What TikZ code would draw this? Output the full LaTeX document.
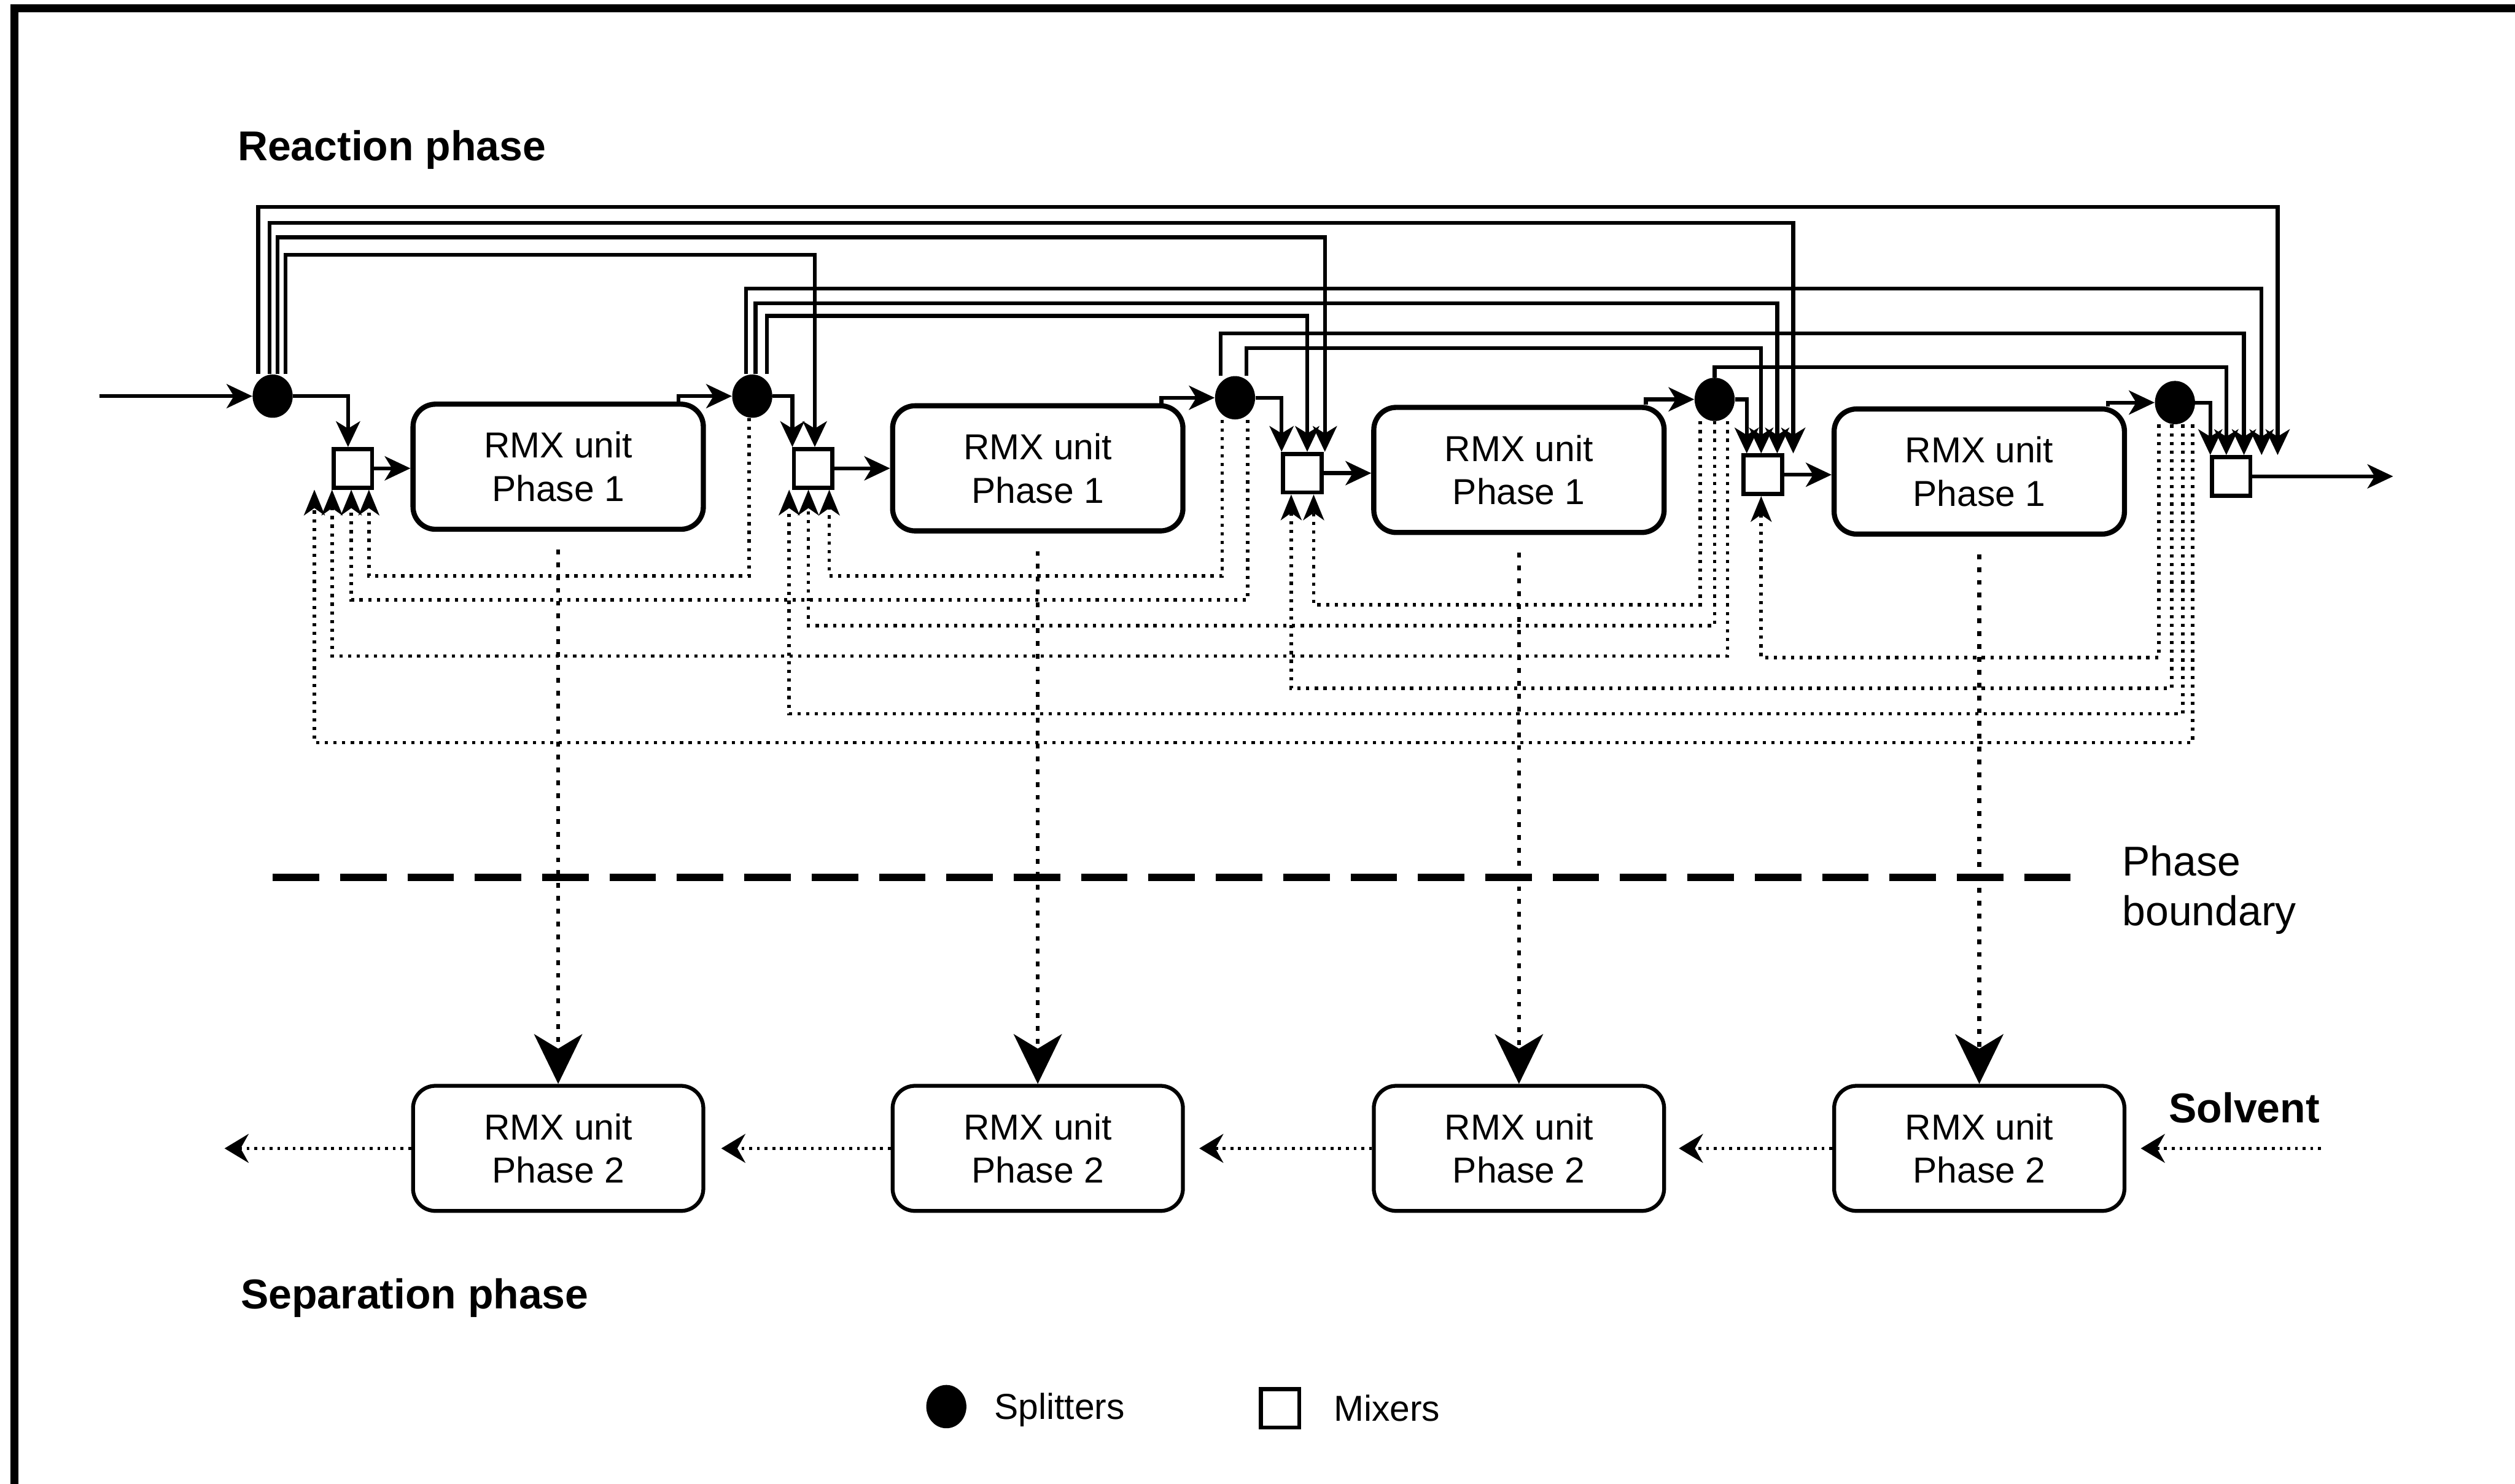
\documentclass[tikz,border=0pt]{standalone}
\usepackage{fontspec}
\setmainfont{Liberation Sans}
\usetikzlibrary{arrows.meta, positioning, shapes.geometric}

\begin{document}
\begin{tikzpicture}[
  x=1pt, y=-1pt,
  >=Stealth,
  rmx/.style={
    rectangle, draw, line width=3.2pt,
    rounded corners=14pt,
    minimum width=181pt, minimum height=78pt,
    align=center, font=\fontsize{22.5}{27}\selectfont
  },
  rmxtwo/.style={rmx, line width=2.4pt},
  splitter/.style={ellipse, fill=black, minimum width=25pt, minimum height=27pt, inner sep=0pt},
  mixer/.style={rectangle, draw, fill=white, line width=2.6pt, minimum width=24pt, minimum height=24pt, inner sep=0pt},
  flow/.style={line width=2.4pt, -{Stealth[length=16pt, width=15pt, inset=4.5pt]}},
  recycle/.style={line width=2.2pt, dash pattern=on 2pt off 3.4pt, -{Stealth[length=16pt, width=13pt, inset=4.5pt]}},
  transfer/.style={line width=2.4pt, dash pattern=on 3pt off 5pt, shorten <=11pt, -{Stealth[length=31pt, width=30pt, inset=9pt]}},
  backflow/.style={line width=2pt, dash pattern=on 1.8pt off 3pt, -{Stealth[length=15pt, width=18pt, inset=5pt]}},
  boundary/.style={line width=4.5pt, dash pattern=on 29pt off 13pt},
  heading/.style={font=\fontsize{26}{31}\selectfont\bfseries, anchor=base west, inner sep=0pt},
  lbl/.style={font=\fontsize{26}{31}\selectfont, align=left, anchor=north west, inner sep=0pt},
  keytext/.style={font=\fontsize{22.5}{27}\selectfont, inner sep=0pt}
]
  \useasboundingbox (0,0) rectangle (1568,925);
  \draw[line width=5pt] (9,930) -- (9,5) -- (1575,5);

  \node[heading] (reaction) at (148,100) {Reaction phase};
  \node[heading] (separation) at (150,816) {Separation phase};

  \node[splitter] (S1) at (170,247) {};
  \node[mixer]    (M1) at (220,292) {};
  \node[rmx]      (U1) at (348,291) {RMX unit\\Phase 1};
  \node[splitter] (S2) at (469,247) {};
  \node[mixer]    (M2) at (507,292) {};
  \node[rmx]      (U2) at (647,292) {RMX unit\\Phase 1};
  \node[splitter] (S3) at (770,248) {};
  \node[mixer]    (M3) at (812,295) {};
  \node[rmx]      (U3) at (947,293) {RMX unit\\Phase 1};
  \node[splitter] (S4) at (1069,249) {};
  \node[mixer]    (M4) at (1099,296) {};
  \node[rmx]      (U4) at (1234,294) {RMX unit\\Phase 1};
  \node[splitter] (S5) at (1356,251) {};
  \node[mixer]    (M5) at (1391,297) {};

  \coordinate (feed) at (62,247);
  \coordinate (product) at (1492,297);

  \draw[flow] (feed) -- (S1);
  \draw[flow] (M1.east) -- (M1.east -| U1.west);
  \draw[flow] (M2.east) -- (M2.east -| U2.west);
  \draw[flow] (M3.east) -- (M3.east -| U3.west);
  \draw[flow] (M4.east) -- (M4.east -| U4.west);
  \draw[flow] (M5.east) -- (product);
  \draw[flow] ([xshift=-17]U1.north east) |- (S2.west);
  \draw[flow] ([xshift=-15]U2.north east) |- (S3.west);
  \draw[flow] ([xshift=-13]U3.north east) |- (S4.west);
  \draw[flow] ([xshift=-12]U4.north east) |- (S5.west);

  \draw[flow] (S1.east) -| ([xshift=-3]M1.north);
  \draw[flow] (S2.east) -| ([xshift=-13]M2.north);
  \draw[flow] (S3.east) -| ([xshift=-13]M3.north);
  \draw[flow] (S4.east) -| ([xshift=-10]M4.north);
  \draw[flow] (S5.east) -| ([xshift=-13]M5.north);

  \draw[flow] ([xshift=8]S1.north) -- ([xshift=8]S1.north |- 0,159) -| ([xshift=1]M2.north);
  \draw[flow] ([xshift=3]S1.north) -- ([xshift=3]S1.north |- 0,148) -| ([xshift=14]M3.north);
  \draw[flow] ([xshift=-2]S1.north) -- ([xshift=-2]S1.north |- 0,139) -| ([xshift=19]M4.north);
  \draw[flow] ([xshift=-9]S1.north) -- ([xshift=-9]S1.north |- 0,129) -| ([xshift=29]M5.north);
  \draw[flow] ([xshift=9]S2.north) -- ([xshift=9]S2.north |- 0,197) -| ([xshift=3]M3.north);
  \draw[flow] ([xshift=2]S2.north) -- ([xshift=2]S2.north |- 0,189) -| ([xshift=9]M4.north);
  \draw[flow] ([xshift=-4]S2.north) -- ([xshift=-4]S2.north |- 0,180) -| ([xshift=19]M5.north);
  \draw[flow] ([xshift=7]S3.north) -- ([xshift=7]S3.north |- 0,217) -| ([xshift=-1]M4.north);
  \draw[flow] ([xshift=-9]S3.north) -- ([xshift=-9]S3.north |- 0,208) -| ([xshift=8]M5.north);
  \draw[flow] (S4.north) -- (S4.north |- 0,229) -| ([xshift=-3]M5.north);

  \draw[recycle] ([xshift=-2]S2.south) -- ([xshift=-2]S2.south |- 0,359) -| ([xshift=10]M1.south);
  \draw[recycle] ([xshift=-8]S3.south) -- ([xshift=-8]S3.south |- 0,359) -| ([xshift=10]M2.south);
  \draw[recycle] ([xshift=8]S3.south) -- ([xshift=8]S3.south |- 0,374) -| ([xshift=-1]M1.south);
  \draw[recycle] ([xshift=-9]S4.south) -- ([xshift=-9]S4.south |- 0,377) -| ([xshift=7]M3.south);
  \draw[recycle] (S4.south) -- (S4.south |- 0,390) -| ([xshift=-3]M2.south);
  \draw[recycle] ([xshift=8]S4.south) -- ([xshift=8]S4.south |- 0,409) -| ([xshift=-13]M1.south);
  \draw[recycle] ([xshift=-10]S5.south) -- ([xshift=-10]S5.south |- 0,410) -| ([xshift=-1]M4.south);
  \draw[recycle] ([xshift=-2]S5.south) -- ([xshift=-2]S5.south |- 0,429) -| ([xshift=-7]M3.south);
  \draw[recycle] ([xshift=5]S5.south) -- ([xshift=5]S5.south |- 0,445) -| ([xshift=-15]M2.south);
  \draw[recycle] ([xshift=11]S5.south) -- ([xshift=11]S5.south |- 0,463) -| ([xshift=-24]M1.south);

  \draw[boundary] (170,547) -- (1292,547);
  \node[lbl] (pb) at (1323,527) {Phase\\boundary};

  \node[rmxtwo] (P1) at (348,716) {RMX unit\\Phase 2};
  \node[rmxtwo] (P2) at (647,716) {RMX unit\\Phase 2};
  \node[rmxtwo] (P3) at (947,716) {RMX unit\\Phase 2};
  \node[rmxtwo] (P4) at (1234,716) {RMX unit\\Phase 2};

  \draw[transfer] (U1) -- (P1);
  \draw[transfer] (U2) -- (P2);
  \draw[transfer] (U3) -- (P3);
  \draw[transfer] (U4) -- (P4);

  \coordinate (solvent) at (1447,716);
  \coordinate (extract) at (140,716);
  \node[heading] (solv) at (1352,700) {Solvent};
  \draw[backflow, shorten >=9pt] (solvent) -- (P4);
  \draw[backflow, shorten >=8pt] (P4) -- (P3);
  \draw[backflow, shorten >=9pt] (P3) -- (P2);
  \draw[backflow, shorten >=10pt] (P2) -- (P1);
  \draw[backflow] (P1) -- (extract);

  \node[splitter] (keysplit) at (590,877) {};
  \node[keytext, right=17pt of keysplit, yshift=-2pt] {Splitters};
  \node[mixer] (keymix) at (798,878) {};
  \node[keytext, right=20pt of keymix] {Mixers};
\end{tikzpicture}
\end{document}
